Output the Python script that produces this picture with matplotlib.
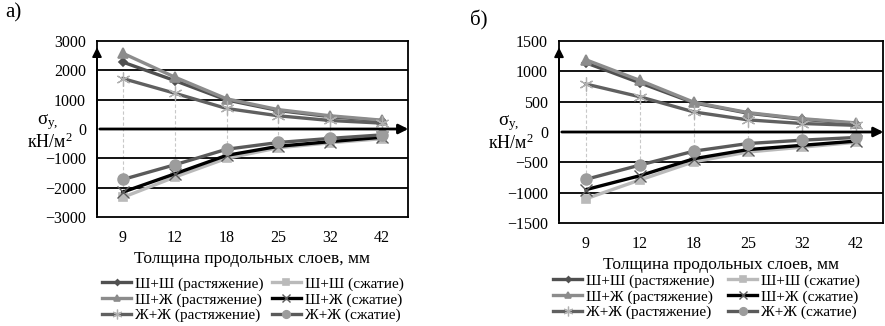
import numpy as np
import matplotlib
matplotlib.use("Agg")
from matplotlib import pyplot as plt

plt.rcParams['font.family'] = ['Liberation Serif', 'DejaVu Serif']
plt.rcParams['mathtext.fontset'] = 'custom'
plt.rcParams['mathtext.rm'] = 'Liberation Serif'
plt.rcParams['mathtext.it'] = 'Liberation Serif'

categories = ['9', '12', '18', '25', '32', '42']

# chart a) values, kN/m2
a_shsh_t = [2280, 1650, 990, 630, 420, 280]
a_shzh_t = [2580, 1770, 1030, 660, 450, 300]
a_zhzh_t = [1720, 1220, 700, 450, 290, 200]
a_shsh_c = [-2330, -1640, -1000, -640, -470, -330]
a_shzh_c = [-2150, -1530, -900, -590, -430, -280]
a_zhzh_c = [-1720, -1220, -690, -460, -320, -200]

# chart б) values, kN/m2
b_shsh_t = [1140, 810, 480, 310, 210, 140]
b_shzh_t = [1190, 850, 490, 320, 220, 150]
b_zhzh_t = [790, 580, 330, 200, 140, 110]
b_shsh_c = [-1100, -790, -490, -330, -250, -170]
b_shzh_c = [-950, -720, -440, -290, -220, -150]
b_zhzh_c = [-780, -545, -315, -190, -135, -90]

labels = ['Ш+Ш (растяжение)', 'Ш+Ж (растяжение)', 'Ж+Ж (растяжение)',
          'Ш+Ш (сжатие)', 'Ш+Ж (сжатие)', 'Ж+Ж (сжатие)']

# line colour, marker, marker colour, marker size, marker edge width
styles = [
    ('#505050', 'D', '#505050', 4, 1.2),
    ('#8c8c8c', '^', '#8c8c8c', 7, 1.2),
    ('#606060', (6, 2, 0), '#b0b0b0', 10, 0.9),
    ('#bababa', 's', '#bababa', 6, 1.2),
    ('#000000', 'x', '#5a5a5a', 8, 1.0),
    ('#5a5a5a', 'o', '#9c9c9c', 8, 1.0),
]

W, H = 885, 326


def draw_panel(ax, series, ylim, step, leg_xy, colspace):
    x = np.arange(len(categories))
    # dashed drop lines between groups
    ax.vlines(x[:-1], series[4][:-1], series[2][:-1], colors='#c8c8c8',
              linestyles=(0, (3, 2)), linewidth=0.8, zorder=1)
    for yv in np.arange(ylim[0] + step, ylim[1], step):
        if yv != 0:
            ax.axhline(yv, color='black', linewidth=1.3, zorder=1)
    order = [3, 4, 5, 2, 0, 1]
    for i in order:
        c, m, mc, ms, mew = styles[i]
        ax.plot(x, series[i], color=c, linewidth=2.4, marker=m,
                markersize=ms, markerfacecolor=mc, markeredgecolor=mc,
                markeredgewidth=mew, label=labels[i], zorder=3 + i * 0.1)
    ax.set_xlim(-0.5, len(categories) - 0.5)
    ax.set_ylim(*ylim)
    ax.set_yticks(np.arange(ylim[0], ylim[1] + 1, step))
    ax.set_xticks(x)
    ax.set_xticklabels(categories)
    ax.tick_params(length=0, labelsize=11.5, pad=8)
    ax.tick_params(axis='x', pad=9)
    for s in ax.spines.values():
        s.set_linewidth(1.3)
    # zero axis and vertical axis arrows
    ax.annotate('', xy=(1.01, 0), xycoords=('axes fraction', 'data'),
                xytext=(0, 0), textcoords=('axes fraction', 'data'),
                arrowprops=dict(arrowstyle='-|>', color='black', lw=2,
                                mutation_scale=14), zorder=5)
    ax.annotate('', xy=(0, 0.98), xycoords='axes fraction',
                xytext=(0, 0), textcoords='axes fraction',
                arrowprops=dict(arrowstyle='-|>', color='black', lw=1.3,
                                mutation_scale=14), zorder=5)
    ax.set_xlabel('Толщина продольных слоев, мм', fontsize=12.5, labelpad=4)
    handles, labs = ax.get_legend_handles_labels()
    hmap = dict(zip(labs, handles))
    fig.legend([hmap[l] for l in labels], labels, ncol=2,
               loc='upper left', bbox_to_anchor=(leg_xy[0] / W, 1 - leg_xy[1] / H),
               frameon=False, fontsize=11, handlelength=1.9, markerscale=0.7,
               handletextpad=0.25, columnspacing=colspace, labelspacing=0.12,
               borderpad=0, borderaxespad=0)


fig = plt.figure(figsize=(8.85, 3.26), dpi=100)
ax1 = fig.add_axes([97 / W, 1 - 217 / H, 311 / W, 176 / H])
ax2 = fig.add_axes([559 / W, 1 - 223 / H, 324 / W, 182 / H])

draw_panel(ax1, [a_shsh_t, a_shzh_t, a_zhzh_t, a_shsh_c, a_shzh_c, a_zhzh_c],
           (-3000, 3000), 1000, (102, 277), 0.55)
draw_panel(ax2, [b_shsh_t, b_shzh_t, b_zhzh_t, b_shsh_c, b_shzh_c, b_zhzh_c],
           (-1500, 1500), 500, (553, 274), 0.9)

fig.text(48 / W, 1 - 122 / H, 'σ$_{y,}$', fontsize=13.5, ha='center', va='center')
fig.text(50 / W, 1 - 142 / H, 'кН/м$^2$', fontsize=13, ha='center', va='center')
fig.text(509 / W, 1 - 123 / H, 'σ$_{y,}$', fontsize=13.5, ha='center', va='center')
fig.text(511 / W, 1 - 143 / H, 'кН/м$^2$', fontsize=13, ha='center', va='center')

fig.text(5 / W, 1 - 13 / H, 'а)', fontsize=15, ha='left', va='center')
fig.text(470 / W, 1 - 20 / H, 'б)', fontsize=15, ha='left', va='center')

plt.savefig('out.png', dpi=100)
